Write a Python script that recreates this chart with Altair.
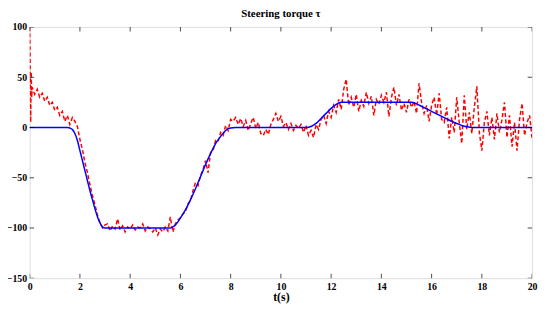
import altair as alt
import pandas as pd

# Reference (blue) torque profile
ref_t = [0, 1.5, 1.6, 1.7, 1.8, 1.9, 2.0, 2.1, 2.2, 2.3, 2.4, 2.5, 2.6, 2.7, 2.8, 2.9, 3.0,
         5.6, 5.7, 5.8, 5.9, 6.0, 6.2, 6.4, 6.6, 6.8, 7.0, 7.2, 7.4, 7.6, 7.8, 8.0, 8.2,
         11.0, 11.2, 11.4, 11.6, 11.8, 12.0, 12.2, 12.4, 12.6,
         15.2, 15.4, 15.6, 15.8, 16.0, 16.2, 16.4, 16.6, 16.8, 17.0, 17.2, 17.4, 17.6, 20]
ref_v = [0, 0, -0.5, -2, -6, -13, -23, -33, -43, -53, -63, -72, -81, -89, -95, -99, -100,
         -100, -99, -97, -94, -90, -82, -72, -61, -49, -37, -26, -16, -9, -3, -0.5, 0,
         0, 1, 4, 9, 14, 19, 23, 25, 25,
         25, 23.5, 21, 18.5, 16, 13.5, 11, 8.5, 6, 4, 2, 0.7, 0, 0]

# Measured (red dashed) torque
meas_t = [0, 0.02, 0.04, 0.06, 0.08] + [round(0.1 * i, 1) for i in range(1, 201)]
meas_v = [100, 60, 5, 55, 30,
          40, 33, 38, 30, 34, 26, 30, 22, 25, 17,
          20, 12, 16, 6, 12, 3, 10, 6, 1, -12,
          -22, -35, -45, -57, -68, -77, -87, -95, -100, -97,
          -96, -103, -98, -101, -91, -102, -98, -104, -99, -101,
          -97, -102, -99, -100, -96, -103, -99, -101, -104, -100,
          -107, -101, -104, -99, -103, -89, -104, -96, -92, -90,
          -86, -84, -76, -73, -63, -55, -58, -48, -42, -33,
          -45, -25, -23, -13, -14, -5, -8, 2, -3, 8,
          6, 10, 3, 9, 1, 7, -3, 4, 10, -1,
          5, -6, -8, -2, -7, 3, 8, 14, 6, 11,
          1, 5, -2, 4, -3, 2, -1, 3, -5, 2,
          -8, -3, -10, 3, -2, 8, 12, 4, 16, 10,
          22, 15, 28, 18, 38, 48, 22, 30, 20, 33,
          16, 27, 21, 35, 24, 31, 12, 28, 23, 32,
          25, 35, 11, 30, 40, 22, 33, 17, 24, 15,
          28, 20, 26, 14, 44, 25, 14, 22, 6, 22,
          30, 12, 34, 8, 5, 20, -11, 10, -5, 30,
          5, -16, 32, -2, 15, -6, 20, 41, -5, -23,
          5, 16, -8, 10, -12, 14, -5, 8, 25, -10,
          12, -19, 5, -23, 8, 24, -8, 5, 12, -11]

x_ticks = [0, 2, 4, 6, 8, 10, 12, 14, 16, 18, 20]
y_ticks = [-150, -100, -50, 0, 50, 100]

FONT = "Liberation Serif"

ref_df = pd.DataFrame({"t": ref_t, "v": ref_v})
meas_df = pd.DataFrame({"t": meas_t, "v": meas_v})
xt_df = pd.DataFrame({"t": x_ticks})
yt_df = pd.DataFrame({"v": y_ticks})

xscale = alt.Scale(domain=[0, 20], nice=False, zero=False)
yscale = alt.Scale(domain=[-150, 100], nice=False, zero=False)

xaxis = alt.Axis(values=x_ticks, title="t(s)", grid=False, ticks=False, domain=False,
                 labelFont=FONT, labelFontWeight="bold", labelFontSize=10, labelColor="black",
                 labelPadding=3, titleFont=FONT, titleFontWeight="bold", titleFontSize=12,
                 titleColor="black", titlePadding=1, labelFlush=False)
yaxis = alt.Axis(values=y_ticks, title=None, grid=False, ticks=False, domain=False,
                 labelFont=FONT, labelFontWeight="bold", labelFontSize=10, labelColor="black",
                 labelPadding=3, labelFlush=False)

meas = alt.Chart(meas_df).mark_line(color="#ff0000", strokeWidth=1.5, strokeDash=[4, 2.5],
                                    clip=True).encode(
    x=alt.X("t:Q", scale=xscale, axis=xaxis),
    y=alt.Y("v:Q", scale=yscale, axis=yaxis),
)
ref = alt.Chart(ref_df).mark_line(color="#0000ff", strokeWidth=1.5, interpolate="monotone",
                                  clip=True).encode(
    x=alt.X("t:Q", scale=xscale),
    y=alt.Y("v:Q", scale=yscale),
)

tick_style = dict(color="black", thickness=1, size=9, clip=True)
bottom_ticks = alt.Chart(xt_df).mark_tick(orient="vertical", **tick_style).encode(
    x=alt.X("t:Q", scale=xscale), y=alt.datum(-150))
top_ticks = alt.Chart(xt_df).mark_tick(orient="vertical", **tick_style).encode(
    x=alt.X("t:Q", scale=xscale), y=alt.datum(100))
left_ticks = alt.Chart(yt_df).mark_tick(orient="horizontal", **tick_style).encode(
    y=alt.Y("v:Q", scale=yscale), x=alt.datum(0))
right_ticks = alt.Chart(yt_df).mark_tick(orient="horizontal", **tick_style).encode(
    y=alt.Y("v:Q", scale=yscale), x=alt.datum(20))

chart = alt.layer(meas, ref, bottom_ticks, top_ticks, left_ticks, right_ticks).properties(
    width=510, height=255,
    title=alt.TitleParams("Steering torque τ", font=FONT, fontWeight="bold", fontSize=11,
                          color="black", offset=3),
    autosize=alt.AutoSizeParams(type="none"),
    padding={"left": 22, "top": 17, "right": 7, "bottom": 28},
).configure_view(stroke="black", strokeWidth=1.2).configure(background="white")

chart.save("out.html", embed_options={"renderer": "svg", "actions": False})
